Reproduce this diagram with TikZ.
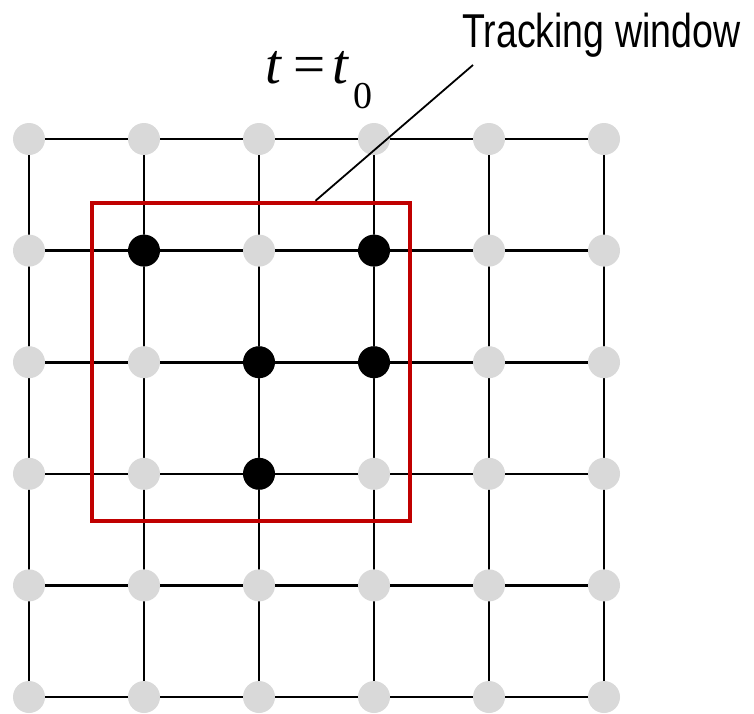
\documentclass[tikz,border=0pt]{standalone}
\usepackage{fontspec}
\usetikzlibrary{calc}
\newfontfamily\narrowfont[FakeStretch=0.79]{Liberation Sans}
\newfontfamily\timesfont{Liberation Serif}
\definecolor{dotgray}{HTML}{D9D9D9}
\definecolor{winred}{HTML}{C00000}
\tikzset{
  gridline/.style={line width=2.6pt, black},
  graydot/.style={circle, fill=dotgray, inner sep=0pt, minimum size=32pt},
  blackdot/.style={circle, fill=black, inner sep=0pt, minimum size=32pt},
  windowbox/.style={draw=winred, line width=4.5pt, inner sep=0pt, minimum width=318pt, minimum height=318pt},
  leader/.style={line width=1.8pt, black},
}
\newcommand{\piece}[2]{\makebox[0pt][l]{\hspace{#1}#2}}
\begin{document}
\begin{tikzpicture}[x=1pt, y=-1pt]
\useasboundingbox (0,0) rectangle (754,713);
% grid coordinates
\foreach \i in {0,...,5} {
  \foreach \j in {0,...,5} {
    \coordinate (c-\i-\j) at ({29+115*\i}, {139+111.6*\j});
  }
}
% grid lines
\foreach \i in {0,...,5} {
  \foreach \j [evaluate=\j as \jn using int(\j+1)] in {0,...,4} {
    \draw[gridline] (c-\i-\j) -- (c-\i-\jn);
    \draw[gridline] (c-\j-\i) -- (c-\jn-\i);
  }
}
% dots
\foreach \i in {0,...,5} {
  \foreach \j in {0,...,5} {
    \node[graydot] (n-\i-\j) at (c-\i-\j) {};
  }
}
\foreach \i/\j in {1/1, 3/1, 2/2, 3/2, 2/3} {
  \node[blackdot] (b-\i-\j) at (c-\i-\j) {};
}
% tracking window
\node[windowbox] (window) at (251,362) {};
\coordinate (leadstart) at ($(window.north west)!0.70!(window.north east)$);
\coordinate (leadend) at (473,65);
\draw[leader] (leadstart) -- (leadend);
% labels
\node[anchor=base west, inner sep=0pt] (tracklabel) at (462,47) {\narrowfont\fontsize{47.5}{50}\selectfont Tracking window};
\node[anchor=base west, inner sep=0pt, text width=110pt] (timelabel) at (265,83) {\timesfont\fontsize{57}{57}\selectfont
  \piece{0pt}{\itshape t}\piece{28pt}{=}\piece{67pt}{\itshape t}\piece{88pt}{\raisebox{-25pt}{\fontsize{38}{38}\selectfont 0}}\strut};
\end{tikzpicture}
\end{document}
